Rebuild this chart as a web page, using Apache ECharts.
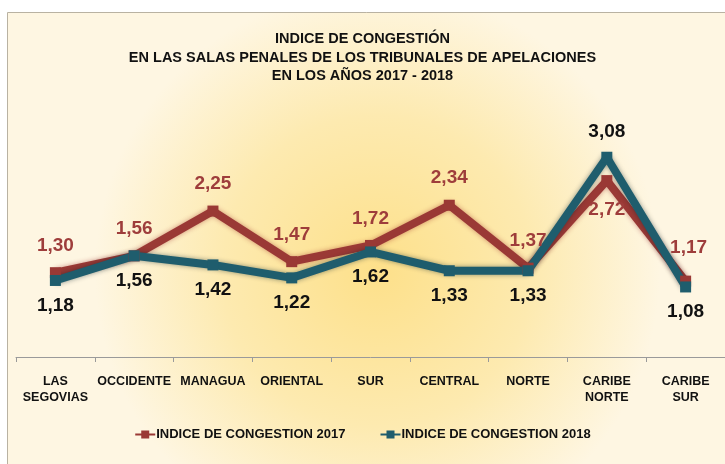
<!DOCTYPE html>
<html><head><meta charset="utf-8">
<script src="https://cdn.jsdelivr.net/npm/echarts@6/dist/echarts.min.js"></script>
<style>html,body{margin:0;padding:0;background:#fff}#c{width:725px;height:464px}</style>
</head><body><div id="c"></div>
<script>
const categories = ['LAS\nSEGOVIAS','OCCIDENTE','MANAGUA','ORIENTAL','SUR','CENTRAL','NORTE','CARIBE\nNORTE','CARIBE\nSUR'];
const values2017 = [1.30,1.56,2.25,1.47,1.72,2.34,1.37,2.72,1.17];
const values2018 = [1.18,1.56,1.42,1.22,1.62,1.33,1.33,3.08,1.08];
const name2017 = 'INDICE DE CONGESTION 2017';
const name2018 = 'INDICE DE CONGESTION 2018';
const titleText = 'INDICE DE CONGESTIÓN\nEN LAS SALAS PENALES DE LOS TRIBUNALES DE APELACIONES\nEN LOS AÑOS 2017 - 2018';

const sans = '"Liberation Sans",Arial,sans-serif';
const fmt = p => p.value.toFixed(2).replace('.', ',');
const c17 = '#9a3935', c18 = '#1f5d6d';

const data2017 = values2017.map((v,i) => {
  const d = {value: v};
  if (i === 7) d.label = {position: 'bottom', distance: 14};
  if (i === 8) d.label = {position: 'top', offset: [3, -6]};
  return d;
});
const data2018 = values2018.map((v,i) => {
  const d = {value: v};
  if (i === 7) d.label = {position: 'top', distance: 10};
  return d;
});

const chart = echarts.init(document.getElementById('c'));
chart.setOption({
  backgroundColor: '#ffffff',
  animation: false,
  graphic: [{
    type: 'rect', z: -10, silent: true,
    shape: {x: 7.5, y: 12.5, width: 740, height: 470},
    style: {
      fill: new echarts.graphic.RadialGradient(0.5, 0.55, 0.6, [
        {offset: 0, color: '#fde08a'},
        {offset: 0.55, color: '#fdeab0'},
        {offset: 1, color: '#fef6e2'}
      ]),
      stroke: '#b9b2a2', lineWidth: 1
    }
  }],
  title: {
    text: titleText, left: 'center', top: 25,
    textStyle: {fontFamily: sans, fontSize: 14.5, fontWeight: 'bold', color: '#111', lineHeight: 18.5}
  },
  legend: {
    bottom: 18, left: 'center', itemGap: 34, itemWidth: 20, itemHeight: 10,
    textStyle: {fontFamily: sans, fontSize: 13, fontWeight: 'bold', color: '#111', padding: [0, 0, 0, -4]},
    data: [name2017, name2018]
  },
  grid: {left: 16, right: -2, top: 130, bottom: 107},
  xAxis: {
    type: 'category', data: categories, boundaryGap: true,
    axisLine: {lineStyle: {color: '#9a9a9a', width: 1}},
    axisTick: {show: true, length: 5, lineStyle: {color: '#9a9a9a'}},
    axisLabel: {fontFamily: sans, fontSize: 12.5, fontWeight: 'bold', color: '#111', margin: 17, lineHeight: 16, interval: 0}
  },
  yAxis: {type: 'value', min: 0, max: 3.5, show: false, splitLine: {show: false}},
  series: [
    {
      name: name2017, type: 'line', data: data2017,
      symbol: 'rect', symbolSize: 11,
      itemStyle: {color: c17},
      lineStyle: {color: c17, width: 8, shadowBlur: 5, shadowColor: 'rgba(150,30,30,0.45)'},
      label: {show: true, position: 'top', distance: 12, formatter: fmt,
        fontFamily: sans, fontSize: 19, fontWeight: 'bold', color: '#9e3d3b'}
    },
    {
      name: name2018, type: 'line', data: data2018,
      symbol: 'rect', symbolSize: 11,
      itemStyle: {color: c18},
      lineStyle: {color: c18, width: 8, shadowBlur: 5, shadowColor: 'rgba(0,30,40,0.45)'},
      label: {show: true, position: 'bottom', distance: 10, formatter: fmt,
        fontFamily: sans, fontSize: 19, fontWeight: 'bold', color: '#111'}
    }
  ]
});
</script></body></html>
